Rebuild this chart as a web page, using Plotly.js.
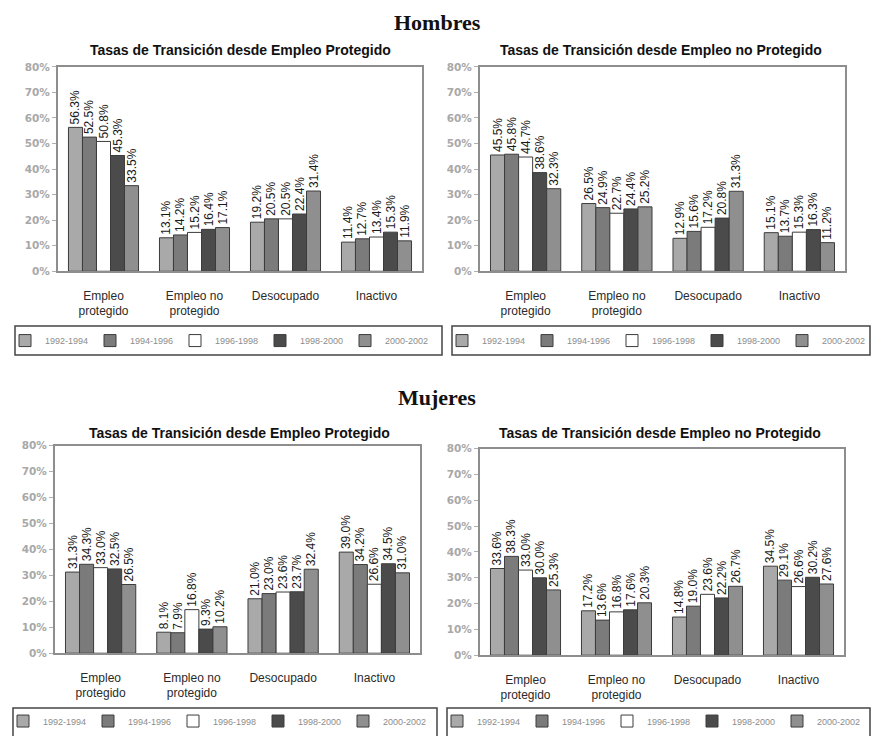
<!DOCTYPE html>
<html>
<head>
<meta charset="utf-8">
<script src="https://cdn.plot.ly/plotly-3.0.1.min.js"></script>
<style>html,body{margin:0;padding:0;background:#fff}#chart{width:874px;height:736px}</style>
</head>
<body>
<div id="chart"></div>
<script>
// ---- data ----
const categories = ["Empleo<br>protegido", "Empleo no<br>protegido", "Desocupado", "Inactivo"];
const periods = ["1992-1994", "1994-1996", "1996-1998", "1998-2000", "2000-2002"];
const yTicks = [0, 10, 20, 30, 40, 50, 60, 70, 80];

// Hombres - desde Empleo Protegido
const hombresProt_1992_1994 = [56.3, 13.1, 19.2, 11.4];
const hombresProt_1994_1996 = [52.5, 14.2, 20.5, 12.7];
const hombresProt_1996_1998 = [50.8, 15.2, 20.5, 13.4];
const hombresProt_1998_2000 = [45.3, 16.4, 22.4, 15.3];
const hombresProt_2000_2002 = [33.5, 17.1, 31.4, 11.9];

// Hombres - desde Empleo no Protegido
const hombresNoProt_1992_1994 = [45.5, 26.5, 12.9, 15.1];
const hombresNoProt_1994_1996 = [45.8, 24.9, 15.6, 13.7];
const hombresNoProt_1996_1998 = [44.7, 22.7, 17.2, 15.3];
const hombresNoProt_1998_2000 = [38.6, 24.4, 20.8, 16.3];
const hombresNoProt_2000_2002 = [32.3, 25.2, 31.3, 11.2];

// Mujeres - desde Empleo Protegido
const mujeresProt_1992_1994 = [31.3, 8.1, 21.0, 39.0];
const mujeresProt_1994_1996 = [34.3, 7.9, 23.0, 34.2];
const mujeresProt_1996_1998 = [33.0, 16.8, 23.6, 26.6];
const mujeresProt_1998_2000 = [32.5, 9.3, 23.7, 34.5];
const mujeresProt_2000_2002 = [26.5, 10.2, 32.4, 31.0];

// Mujeres - desde Empleo no Protegido
const mujeresNoProt_1992_1994 = [33.6, 17.2, 14.8, 34.5];
const mujeresNoProt_1994_1996 = [38.3, 13.6, 19.0, 29.1];
const mujeresNoProt_1996_1998 = [33.0, 16.8, 23.6, 26.6];
const mujeresNoProt_1998_2000 = [30.0, 17.6, 22.2, 30.2];
const mujeresNoProt_2000_2002 = [25.3, 20.3, 26.7, 27.6];

const panelTitle1 = "Tasas de Transición desde Empleo Protegido";
const panelTitle2 = "Tasas de Transición desde Empleo no Protegido";

// ---- styling ----
const W = 874, H = 736;
const px = v => v / W;
const py = v => 1 - v / H;
const barColors = ["#a9a9a9", "#7b7b7b", "#ffffff", "#4b4b4b", "#8f8f8f"];
const SANS = "Liberation Sans, Arial, sans-serif";

const panels = [
  {series: [hombresProt_1992_1994, hombresProt_1994_1996, hombresProt_1996_1998, hombresProt_1998_2000, hombresProt_2000_2002],
   xa: "x", ya: "y", legend: "legend", dx: [58, 422], dy: [67, 272]},
  {series: [hombresNoProt_1992_1994, hombresNoProt_1994_1996, hombresNoProt_1996_1998, hombresNoProt_1998_2000, hombresNoProt_2000_2002],
   xa: "x2", ya: "y2", legend: "legend2", dx: [480, 845], dy: [67, 272]},
  {series: [mujeresProt_1992_1994, mujeresProt_1994_1996, mujeresProt_1996_1998, mujeresProt_1998_2000, mujeresProt_2000_2002],
   xa: "x3", ya: "y3", legend: "legend3", dx: [55, 420], dy: [447, 655]},
  {series: [mujeresNoProt_1992_1994, mujeresNoProt_1994_1996, mujeresNoProt_1996_1998, mujeresNoProt_1998_2000, mujeresNoProt_2000_2002],
   xa: "x4", ya: "y4", legend: "legend4", dx: [480, 844], dy: [450, 657]}
];

const traces = [];
panels.forEach(p => {
  p.series.forEach((vals, i) => {
    traces.push({
      type: "bar",
      x: categories,
      y: vals,
      name: periods[i],
      xaxis: p.xa, yaxis: p.ya,
      legend: p.legend,
      marker: {color: barColors[i], line: {color: "#3c3c3c", width: 1}},
      text: vals.map(v => v.toFixed(1) + "%"),
      textposition: "outside",
      textangle: -90,
      constraintext: "none",
      cliponaxis: false,
      textfont: {family: SANS, size: 12, color: "#1a1a1a"},
      hoverinfo: "skip"
    });
  });
});

const titleFont = {family: SANS, size: 14, weight: "bold", color: "#111"};
const headFont = {family: "Liberation Serif, Times New Roman, serif", size: 22, weight: "bold", color: "#111"};
const ann = (text, x, y, font) => ({text, x: px(x), y: py(y), xref: "paper", yref: "paper",
  xanchor: "center", yanchor: "middle", showarrow: false, font});

const layout = {
  width: W, height: H,
  margin: {l: 0, r: 0, t: 0, b: 0},
  paper_bgcolor: "#ffffff",
  plot_bgcolor: "#ffffff",
  barmode: "group",
  bargap: 0.23,
  bargroupgap: 0,
  font: {family: SANS, size: 12, color: "#222"},
  annotations: [
    ann("Hombres", 437, 23, headFont),
    ann("Mujeres", 437, 399, headFont),
    ann(panelTitle1, 240, 50, titleFont),
    ann(panelTitle2, 661, 50, titleFont),
    ann(panelTitle1, 239, 434, titleFont),
    ann(panelTitle2, 660, 434, titleFont)
  ],
  shapes: [
    {type: "rect", xref: "paper", yref: "paper", x0: px(15), x1: px(442), y0: py(327), y1: py(356), line: {color: "#444", width: 1.5}},
    {type: "rect", xref: "paper", yref: "paper", x0: px(452), x1: px(870), y0: py(327), y1: py(356), line: {color: "#444", width: 1.5}},
    {type: "rect", xref: "paper", yref: "paper", x0: px(13), x1: px(437), y0: py(710), y1: py(746), line: {color: "#444", width: 1.5}},
    {type: "rect", xref: "paper", yref: "paper", x0: px(447), x1: px(870), y0: py(710), y1: py(746), line: {color: "#444", width: 1.5}}
  ]
};

const legendBase = {
  orientation: "h",
  xanchor: "left", yanchor: "middle",
  bgcolor: "rgba(0,0,0,0)",
  borderwidth: 0,
  entrywidth: 40,
  entrywidthmode: "pixels",
  itemclick: false, itemdoubleclick: false,
  font: {family: SANS, size: 9, color: "#8c8c8c"}
};
layout.legend  = Object.assign({}, legendBase, {x: px(5),   y: py(341.5)});
layout.legend2 = Object.assign({}, legendBase, {x: px(442), y: py(341.5)});
layout.legend3 = Object.assign({}, legendBase, {x: px(3),   y: py(723)});
layout.legend4 = Object.assign({}, legendBase, {x: px(437), y: py(723)});

const axNames = [["xaxis", "yaxis"], ["xaxis2", "yaxis2"], ["xaxis3", "yaxis3"], ["xaxis4", "yaxis4"]];
panels.forEach((p, k) => {
  const [xn, yn] = axNames[k];
  layout[xn] = {
    domain: [px(p.dx[0]), px(p.dx[1])],
    anchor: p.ya,
    showline: true, mirror: true, linecolor: "#8e8e8e", linewidth: 2,
    ticks: "", showgrid: false, zeroline: false,
    ticklabelstandoff: 12,
    tickfont: {family: SANS, size: 12, color: "#2a2a2a"},
    fixedrange: true
  };
  layout[yn] = {
    domain: [py(p.dy[1]), py(p.dy[0])],
    anchor: p.xa,
    range: [0, 80],
    tickvals: yTicks,
    ticktext: yTicks.map(v => v + "%"),
    showline: true, mirror: true, linecolor: "#8e8e8e", linewidth: 2,
    ticks: "outside", ticklen: 4, tickcolor: "#b0b0b0", tickwidth: 1,
    showgrid: false, zeroline: false,
    tickfont: {family: "DejaVu Sans, sans-serif", size: 10.5, weight: "bold", color: "#a8a8a8"},
    fixedrange: true
  };
});

Plotly.newPlot("chart", traces, layout, {displayModeBar: false, staticPlot: true});
</script>
</body>
</html>
